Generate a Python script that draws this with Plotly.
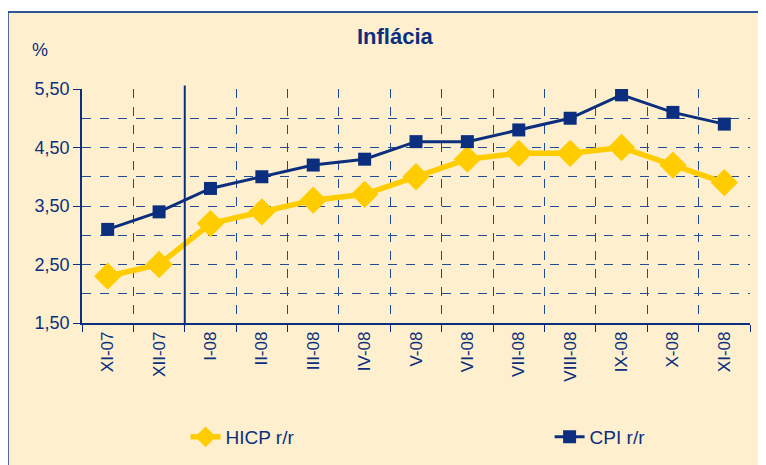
import plotly.graph_objs as go

# mesiace
months = ["XI-07", "XII-07", "I-08", "II-08", "III-08", "IV-08", "V-08",
          "VI-08", "VII-08", "VIII-08", "IX-08", "X-08", "XI-08"]

# medziročná inflácia (%)
hicp = [2.3, 2.5, 3.2, 3.4, 3.6, 3.7, 4.0, 4.3, 4.4, 4.4, 4.5, 4.2, 3.9]
cpi = [3.1, 3.4, 3.8, 4.0, 4.2, 4.3, 4.6, 4.6, 4.8, 5.0, 5.4, 5.1, 4.9]

y_ticks = [1.5, 2.5, 3.5, 4.5, 5.5]

NAVY = "#0B2F7E"
YELLOW = "#FFCC00"
CREAM = "#FEF0CE"
GRID = "#1F4B96"
FONT = "Liberation Sans, Arial"

fig = go.Figure()

fig.add_trace(go.Scatter(
    x=months, y=hicp, mode="lines+markers", name="HICP r/r",
    line=dict(color=YELLOW, width=5.5),
    marker=dict(symbol="diamond", size=21, color=YELLOW),
    legend="legend"
))
fig.add_trace(go.Scatter(
    x=months, y=cpi, mode="lines+markers", name="CPI r/r",
    line=dict(color=NAVY, width=3),
    marker=dict(symbol="square", size=13, color=NAVY),
    legend="legend2"
))

# pozadie grafu s rámčekom
fig.add_shape(type="rect", xref="paper", yref="paper",
              x0=-0.111, x1=1.05, y0=-0.7, y1=1.329,
              fillcolor=CREAM, line=dict(color="#2F5597", width=2),
              layer="below")

# zvislá čiara medzi XII-07 a I-08
fig.add_shape(type="line", xref="x", yref="paper",
              x0=1.5, x1=1.5, y0=-0.01, y1=1.015,
              line=dict(color=NAVY, width=2))

fig.add_annotation(text="%", xref="paper", yref="paper", x=-0.063, y=1.167,
                   xanchor="center", yanchor="middle",
                   showarrow=False, font=dict(size=18, color=NAVY, family=FONT))

legend_style = dict(orientation="h", yanchor="middle", xanchor="left",
                    bgcolor="rgba(0,0,0,0)", font=dict(size=19, color=NAVY))

# stránka má okraj 8 px, preto je graf posunutý
fig.update_layout(
    width=766, height=465,
    margin=dict(l=74, r=24, t=81, b=150, autoexpand=False),
    paper_bgcolor="white",
    plot_bgcolor=CREAM,
    title=dict(text="<b>Inflácia</b>", x=0.505, xanchor="center",
               y=0.94, yanchor="middle",
               font=dict(size=22, color=NAVY, family=FONT)),
    font=dict(family=FONT, color=NAVY),
    separators=",.",
    showlegend=True,
    legend=dict(x=0.155, y=-0.487, **legend_style),
    legend2=dict(x=0.70, y=-0.487, **legend_style),
    xaxis=dict(
        type="category", tickson="boundaries", tickangle=-90,
        showline=True, linecolor=NAVY, linewidth=1.5,
        ticks="outside", ticklen=7, tickcolor=NAVY,
        showgrid=True, gridcolor=GRID, griddash="dash", gridwidth=1,
        tickfont=dict(size=17, color=NAVY),
        range=[-0.5, 12.5], automargin=False
    ),
    yaxis=dict(
        range=[1.5, 5.5], tickvals=y_ticks, tickformat=".2f",
        showline=True, linecolor=NAVY, linewidth=1.5,
        ticks="outside", ticklen=7, tickcolor=NAVY,
        showgrid=True, gridcolor=GRID, griddash="dash", gridwidth=1,
        zeroline=False, automargin=False,
        tickfont=dict(size=18, color=NAVY),
        minor=dict(dtick=0.5, tick0=1.5, showgrid=True, gridcolor=GRID,
                   griddash="dash", gridwidth=1, ticks="")
    ),
)

fig.write_html("out.html")
